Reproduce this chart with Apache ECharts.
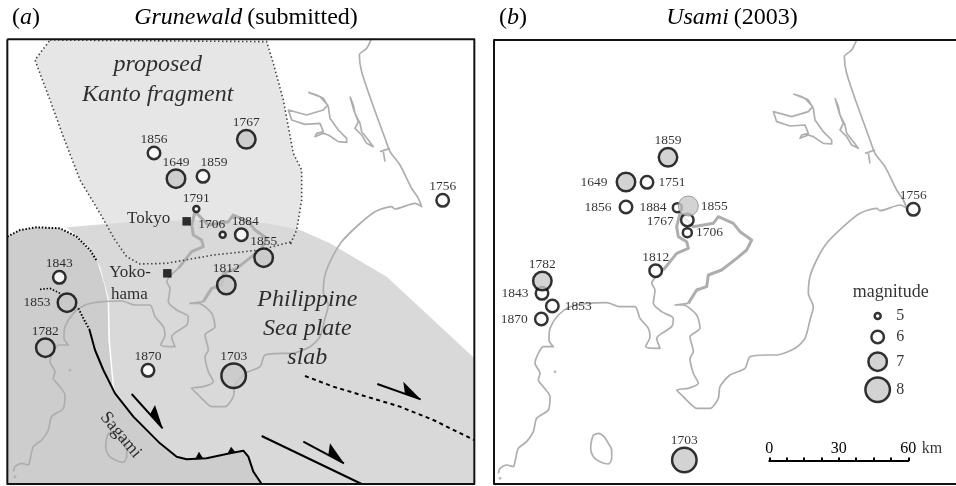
<!DOCTYPE html>
<html>
<head>
<meta charset="utf-8">
<script src="https://cdn.jsdelivr.net/npm/echarts@6/dist/echarts.min.js"></script>
<style>html,body{margin:0;padding:0;background:#fff}#c{width:956px;height:486px}</style>
</head>
<body>
<div id="c"></div>
<script>
// map units: 1/3 pixel. [year, x, y, magnitude]
const eventsA = [
  [1767,739,418,7],[1856,462,459,6],[1649,528,536,7],[1859,609,529,6],[1791,589,627,5],
  [1706,668,704,5],[1884,724,704,6],[1756,1328,601,6],[1855,791,773,7],[1812,679,855,7],
  [1843,178,832,6],[1853,201,908,7],[1782,136,1043,7],[1870,444,1111,6],[1703,701,1127,8]
];
const eventsB = [
  [1859,564,472,7],[1649,438,546,7],[1751,501,547,6],[1856,438,621,6],[1884,592,623,5.5],
  [1767,622,660,6],[1706,622,698,5.5],[1855,625,618,7],[1756,1300,628,6],[1843,186,880,6],
  [1870,184,957,6],[1853,217,918,6],[1782,187,843,7],[1812,527,812,6],[1703,613,1380,8]
];
const labelPlaceA = {1706:['top',-11,2],1859:['top',11,2],1884:['top',4,2],1853:['left',-5,0]};
const labelPlaceB = {
  1649:['left',-7,0],1751:['right',3,0],1856:['left',-6,0],1884:['left',-4,0],1855:['right',1,0],
  1767:['left',-5,1],1706:['right',2,0],1843:['left',-5,0],1853:['right',4,0],1870:['left',-5,0]
};
const cities = [['Tokyo',560,664],['Yokohama',502,820]];
const textsA = [
  ['proposed',473,195,24,true,0],['Kanto fragment',473,283,24,true,0],
  ['Tokyo',446,655,17,false,0],['Yoko-',390,818,17,false,0],['hama',388,885,17,false,0],
  ['Philippine',922,898,24,true,0],['Sea plate',922,985,24,true,0],['slab',922,1072,24,true,0],
  ['Sagami',362,1305,18,false,-50]
];
const textsB = [['magnitude',1232,877,18,false,0],['km',1356,1345,16,false,0]];
const legendMags = [5,6,7,8];
const legendX = 1193, legendLabelX = 1261;
const legendY = [948,1011,1085,1169];
const scaleTicks = [0,30,60];

const coastWest = [[55,1420],[60,1405],[80,1395],[100,1400],[105,1385],[115,1345],[140,1325],[160,1295],[170,1255],[205,1230],[210,1190],[190,1160],[175,1140],[180,1120],[165,1090],[175,1060],[190,1040],[220,1040],[207,1020],[210,985],[235,945],[270,920],[320,910],[380,908],[420,920],[465,920],[480,955],[505,985],[510,1010],[497,1040],[540,1045],[530,1015],[575,980],[580,955],[545,935],[520,910],[525,870],[515,850],[550,810]];
const coastBay = [[550,810],[590,760],[625,745],[620,725],[595,710],[590,680],[600,640],[640,680],[700,670],[715,650],[760,670],[780,695],[815,720],[800,750],[770,775],[725,810],[685,825],[680,860],[650,870],[625,910]];
const coastEast = [[625,910],[585,915],[610,915],[650,945],[660,985],[630,1010],[640,1055],[630,1075],[640,1120],[655,1150],[625,1165],[590,1170],[610,1190],[630,1210],[650,1225],[690,1225],[715,1195],[720,1160],[750,1125],[795,1105],[810,1070],[860,1065],[890,1065],[945,1045],[975,1015],[990,960],[1000,920],[985,880],[990,830],[1010,780],[1040,730],[1090,680],[1140,640],[1190,625],[1200,632],[1260,615],[1280,625],[1270,600],[1250,570],[1215,500],[1185,460],[1170,420],[1130,310],[1100,220],[1093,170],[1115,150],[1130,120]];
const canal1 = [[1155,460],[1185,450]];
const canal2 = [[1165,460],[1170,490]];
const lakeKasumi = [[940,282],[965,290],[985,300],[1000,325],[1005,360],[1030,395],[1055,420],[1055,432],[1030,430],[1000,410],[985,405],[960,415],[965,405],[985,400],[975,375],[930,378],[890,365],[880,335],[935,350],[985,335],[998,320],[975,295],[940,282]];
const lakeKita = [[1065,295],[1075,320],[1080,345],[1095,375],[1100,400],[1120,425],[1135,445],[1115,435],[1100,410],[1080,390],[1090,370],[1078,340],[1065,295]];
const oshima = [[340,1305],[355,1300],[372,1310],[385,1330],[395,1350],[395,1375],[385,1392],[360,1385],[340,1370],[332,1345],[335,1320],[340,1305]];
const islets = [[225,1115],[60,1435]];
const coastShiftA = [15,5];

const fragment = [[150,120],[800,125],[820,190],[850,300],[880,460],[905,510],[905,600],[890,690],[870,735],[875,725],[780,750],[640,765],[500,790],[420,792],[380,770],[345,720],[300,640],[240,540],[190,410],[150,300],[105,180],[150,120]];
const plate = [[200,682],[400,665],[600,660],[800,670],[900,690],[990,730],[1160,830],[1300,960],[1423,1075],[1423,1452],[785,1452],[760,1415],[745,1370],[730,1352],[690,1360],[620,1375],[560,1378],[530,1370],[480,1330],[400,1250],[348,1180],[342,1160],[330,1020],[327,900],[300,800],[260,735]];
const darkRegion = [[22,712],[60,690],[110,682],[180,685],[230,710],[255,735],[290,780],[312,850],[323,900],[325,1020],[338,1160],[345,1180],[400,1250],[480,1330],[530,1370],[560,1378],[620,1375],[690,1360],[730,1352],[745,1370],[760,1415],[785,1452],[22,1452]];
const dotted1 = [[22,710],[60,690],[110,682],[180,685],[230,710],[255,735],[270,750],[290,782]];
const dotted2 = [[120,868],[150,865],[180,880]];
const dotted3 = [[235,925],[250,955],[268,988]];
const trench = [[268,988],[285,1050],[310,1110],[345,1180],[400,1250],[480,1330],[530,1370],[560,1378],[620,1375],[690,1360],[730,1352],[745,1370],[760,1415],[785,1452]];
const fault = [[785,1308],[1085,1452]];
const dashedFault = [[915,1128],[1000,1160],[1100,1190],[1200,1220],[1300,1260],[1422,1320]];
const shafts = [[[395,1182],[488,1285]],[[1132,1152],[1262,1198]],[[910,1325],[1032,1390]]];
const heads = [[[488,1285],[465,1215],[450,1243]],[[1262,1198],[1210,1145],[1215,1183]],[[1032,1390],[990,1330],[985,1365]]];
const teeth = [[[585,1378],[597,1355],[610,1376]],[[682,1362],[693,1340],[706,1356]]];
const frameA = [[22,118],[1423,118],[1423,1452],[22,1452],[22,118]];
const frameB = [[1428,120],[42,120],[42,1452],[1428,1452]];

const SERIF = '"Liberation Serif","Times New Roman",serif';
const symbolSizes = {5:6,5.5:9,6:12.5,7:18.5,8:24.5};
const fillFor = m => m >= 7 ? '#c8c8c8' : '#fff';

function poly(pts, fill, z, ai) {
  return {type:'custom',coordinateSystem:'cartesian2d',xAxisIndex:ai,yAxisIndex:ai,z,silent:true,
    data:pts,encode:{x:0,y:1},
    renderItem:(p,api)=> p.dataIndex===0 ? {type:'polygon',shape:{points:pts.map(q=>api.coord(q))},style:{fill}} : null};
}
function line(pts, color, width, z, ai, type, clip, smooth) {
  return {type:'line',xAxisIndex:ai,yAxisIndex:ai,z,silent:true,data:pts,showSymbol:false,symbol:'none',clip:clip!==false,
    smooth:smooth||false,
    lineStyle:{color,width,type:type||'solid',cap:'butt',join:'round'}};
}
function texts(arr, ai) {
  return {type:'scatter',xAxisIndex:ai,yAxisIndex:ai,z:30,silent:true,symbolSize:1,itemStyle:{color:'transparent'},
    data:arr.map(t=>({value:[t[1],t[2]],label:{show:true,position:'inside',formatter:t[0],fontFamily:SERIF,fontSize:t[3],
      fontStyle:t[4]?'italic':'normal',color:'#000',rotate:t[5],align:'center',verticalAlign:'middle'}}))};
}
function events(arr, place, ai) {
  return {type:'scatter',xAxisIndex:ai,yAxisIndex:ai,z:20,silent:true,
    data:arr.map(e=>{
      const pl = place[e[0]] || ['top',0,2];
      const faint = ai===1 && e[0]===1855;
      return {value:[e[1],e[2]],symbolSize:faint?20:symbolSizes[e[3]],
        itemStyle:{color:fillFor(e[3]),borderColor:faint?'#8a8a8a':'#000',borderWidth:faint?1:2.5},
        label:{show:true,formatter:String(e[0]),position:pl[0],distance:1,offset:[pl[1],pl[2]],
          fontFamily:SERIF,fontSize:13.5,color:'#000'}};
    })};
}
function coastSeries(shift, ai) {
  const s = a => a.map(p=>[p[0]-shift[0],p[1]-shift[1]]);
  const col = '#aeaeae';
  return [line(s(coastWest),col,1.7,10,ai,'solid',true,0.25),line(s(coastBay),col,3,10,ai),line(s(coastEast),col,1.7,10,ai,'solid',true,0.25),
    line(s(canal1),col,1.7,10,ai),line(s(canal2),col,1.7,10,ai),line(s(lakeKasumi),col,1.7,10,ai),
    line(s(lakeKita),col,1.7,10,ai),line(s(oshima),col,1.7,10,ai,'solid',true,0.3),
    {type:'scatter',xAxisIndex:ai,yAxisIndex:ai,z:10,silent:true,symbolSize:3,itemStyle:{color:col},data:s(islets)}];
}
const hidden = (min,max,inv,g)=>({type:'value',gridIndex:g,min,max,inverse:!!inv,show:false,scale:false});

const series = [
  poly(fragment,'#e6e6e6',1,0),
  poly(plate,'#d9d9d9',2,0),
  poly(darkRegion,'#cdcdcd',3,0),
  ...coastSeries(coastShiftA,0),
  line(fragment,'#444',1.6,12,0,[1.5,2.5]),
  line(dotted1,'#000',2,13,0,[1.5,1.8]),
  line(dotted2,'#000',1.6,13,0,[1.5,1.8]),
  line(dotted3,'#000',2,13,0,[1.5,1.8]),
  line(trench,'#000',2,13,0),
  line(fault,'#000',2,13,0),
  line(dashedFault,'#000',2,13,0,[4,3.5]),
  ...shafts.map(a=>line(a,'#000',2,13,0)),
  ...heads.map(h=>poly(h,'#000',14,0)),
  ...teeth.map(h=>poly(h,'#000',14,0)),
  {type:'scatter',xAxisIndex:0,yAxisIndex:0,z:15,silent:true,symbol:'rect',symbolSize:8.5,itemStyle:{color:'#000'},
    data:cities.map(c=>[c[1],c[2]])},
  events(eventsA,labelPlaceA,0),
  texts(textsA,0),
  line(frameA,'#111',2,40,0,'solid',false),

  ...coastSeries([0,0],1),
  events(eventsB,labelPlaceB,1),
  {type:'scatter',xAxisIndex:1,yAxisIndex:1,z:20,silent:true,
    data:legendMags.map((m,i)=>({value:[legendX,legendY[i]],symbolSize:symbolSizes[m],
      itemStyle:{color:fillFor(m),borderColor:'#000',borderWidth:2.5}}))},
  texts(legendMags.map((m,i)=>[String(m),legendLabelX,legendY[i],16,false,0]),1),
  texts(textsB,1),
  line(frameB,'#111',2,40,1,'solid',false),
  {type:'line',xAxisIndex:2,yAxisIndex:2,data:[],silent:true}
];

const titleRich = {i:{fontFamily:SERIF,fontSize:24,fontStyle:'italic',fontWeight:'normal',color:'#000'},
                   r:{fontFamily:SERIF,fontSize:24,fontWeight:'normal',color:'#000'}};
const chart = echarts.init(document.getElementById('c'),null,{renderer:'canvas'});
chart.setOption({
  animation:false,
  backgroundColor:'#fff',
  title:[
    {text:'{r|(}{i|a}{r|)}',left:7,top:1,textStyle:{rich:titleRich}},
    {text:'{i|Grunewald} {r|(submitted)}',left:241,top:1,textAlign:'center',textStyle:{rich:titleRich}},
    {text:'{r|(}{i|b}{r|)}',left:494,top:1,textStyle:{rich:titleRich}},
    {text:'{i|Usami} {r|(2003)}',left:727,top:1,textAlign:'center',textStyle:{rich:titleRich}}
  ],
  grid:[
    {left:7.33,top:39.33,width:467,height:444.67},
    {left:494,top:40,width:462,height:444},
    {left:769.3,top:460,width:139,height:1}
  ],
  xAxis:[hidden(22,1423,false,0),hidden(42,1428,false,1),
    {type:'value',gridIndex:2,position:'top',min:0,max:60,interval:30,
     axisLine:{show:true,lineStyle:{color:'#000',width:2}},
     axisTick:{show:true,length:3.5,lineStyle:{color:'#000',width:2}},
     minorTick:{show:true,splitNumber:4,length:3.5,lineStyle:{color:'#000',width:2}},
     axisLabel:{show:true,margin:3,fontFamily:SERIF,fontSize:16,color:'#000',customValues:scaleTicks},
     splitLine:{show:false}}],
  yAxis:[hidden(118,1452,true,0),hidden(120,1452,true,1),
    {type:'value',gridIndex:2,show:false,min:0,max:1}],
  series
});
</script>
</body>
</html>
